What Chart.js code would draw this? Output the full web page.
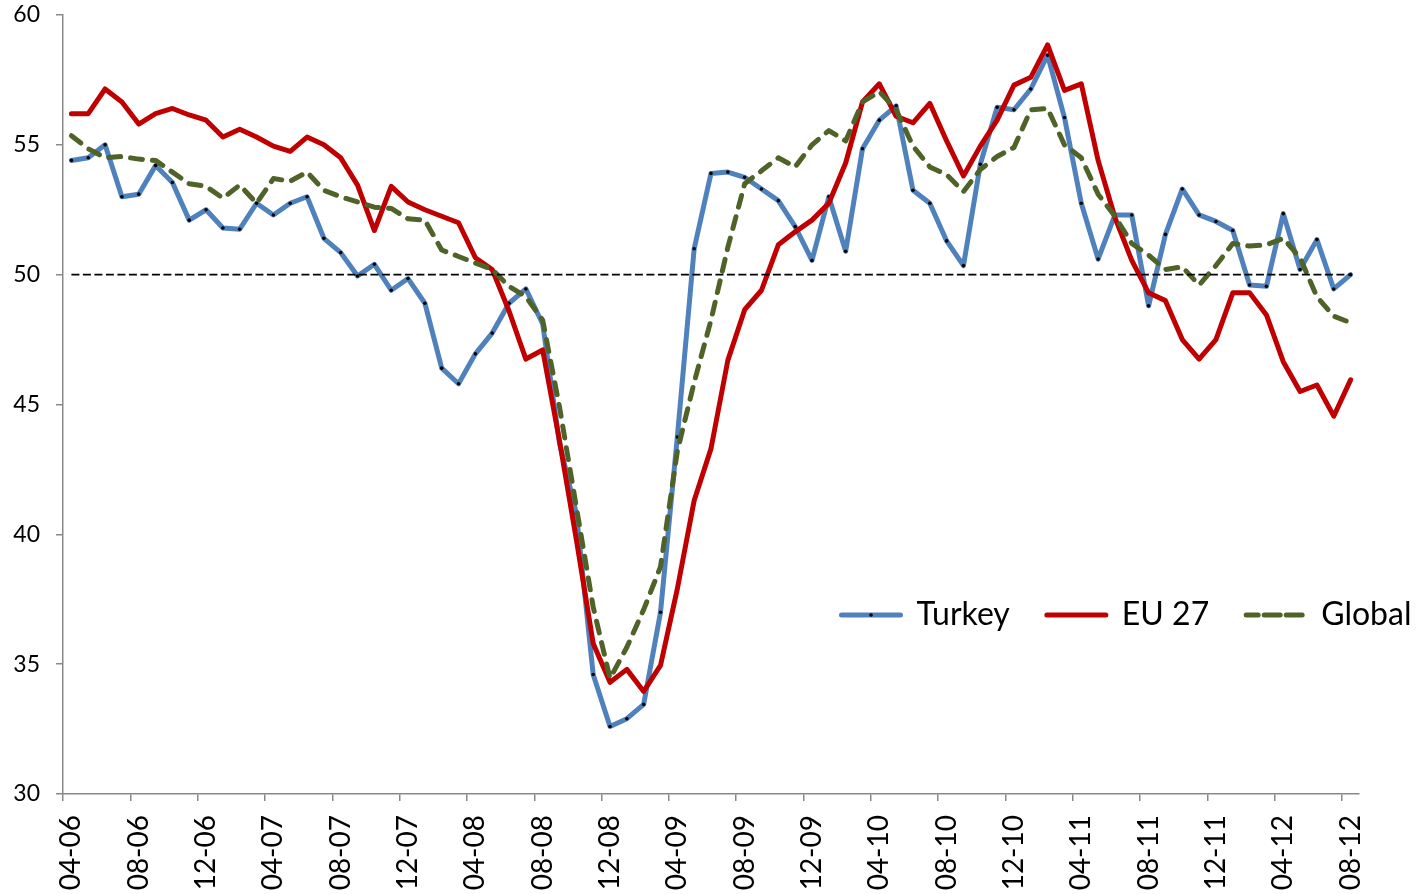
<!DOCTYPE html>
<html>
<head>
<meta charset="utf-8">
<script src="https://cdn.jsdelivr.net/npm/chart.js@4.4.1/dist/chart.umd.min.js"></script>
<style>
  html, body { margin: 0; padding: 0; background: #fff; }
  #wrap { width: 1416px; height: 894px; }
</style>
</head>
<body>
<div id="wrap"><canvas id="pmiChart" width="1416" height="894"></canvas></div>
<script>
// month-year categories, 04-06 .. 08-12
const months = [
  '04-06','05-06','06-06','07-06','08-06','09-06','10-06','11-06','12-06',
  '01-07','02-07','03-07','04-07','05-07','06-07','07-07','08-07','09-07','10-07','11-07','12-07',
  '01-08','02-08','03-08','04-08','05-08','06-08','07-08','08-08','09-08','10-08','11-08','12-08',
  '01-09','02-09','03-09','04-09','05-09','06-09','07-09','08-09','09-09','10-09','11-09','12-09',
  '01-10','02-10','03-10','04-10','05-10','06-10','07-10','08-10','09-10','10-10','11-10','12-10',
  '01-11','02-11','03-11','04-11','05-11','06-11','07-11','08-11','09-11','10-11','11-11','12-11',
  '01-12','02-12','03-12','04-12','05-12','06-12','07-12','08-12'
];

const turkey = [
  54.4, 54.5, 55.0, 53.0, 53.1, 54.2, 53.55, 52.1, 52.5, 51.8,
  51.75, 52.75, 52.3, 52.75, 53.0, 51.4, 50.85, 49.95, 50.4, 49.4,
  49.85, 48.9, 46.4, 45.8, 46.95, 47.75, 48.9, 49.45, 48.1, 43.5,
  40.8, 34.6, 32.6, 32.9, 33.45, 37.0, 43.75, 51.0, 53.9, 53.95,
  53.75, 53.3, 52.85, 51.85, 50.55, 53.0, 50.9, 54.85, 55.95, 56.5,
  53.25, 52.75, 51.3, 50.35, 54.25, 56.45, 56.35, 57.15, 58.45, 56.05,
  52.75, 50.6, 52.3, 52.3, 48.8, 51.55, 53.3, 52.3, 52.05, 51.7,
  49.6, 49.55, 52.35, 50.2, 51.35, 49.45, 50.0
];

const eu27 = [
  56.2, 56.2, 57.15, 56.65, 55.8, 56.2, 56.4, 56.15, 55.95, 55.3,
  55.6, 55.3, 54.95, 54.75, 55.3, 55.0, 54.5, 53.45, 51.7, 53.4,
  52.8, 52.5, 52.25, 52.0, 50.65, 50.2, 48.6, 46.75, 47.1, 43.6,
  39.8, 35.8, 34.3, 34.8, 33.95, 34.95, 37.9, 41.3, 43.3, 46.7,
  48.65, 49.4, 51.15, 51.65, 52.1, 52.75, 54.3, 56.65, 57.35, 56.1,
  55.85, 56.6, 55.15, 53.8, 54.95, 55.95, 57.3, 57.6, 58.85, 57.1,
  57.35, 54.4, 52.2, 50.55, 49.3, 49.0, 47.5, 46.75, 47.5, 49.3,
  49.3, 48.45, 46.65, 45.5, 45.75, 44.55, 45.95
];

const globalPmi = [
  55.35, 54.85, 54.5, 54.55, 54.45, 54.4, 53.95, 53.5, 53.4, 52.95,
  53.45, 52.75, 53.7, 53.6, 53.95, 53.25, 53.0, 52.8, 52.6, 52.55,
  52.15, 52.1, 50.95, 50.7, 50.45, 50.2, 49.55, 49.15, 48.25, 44.9,
  41.05, 37.2, 34.45, 35.65, 37.1, 38.75, 43.2, 45.85, 48.25, 51.05,
  53.5, 54.0, 54.5, 54.15, 55.0, 55.55, 55.15, 56.65, 57.05, 56.35,
  54.95, 54.15, 53.85, 53.2, 54.05, 54.55, 54.9, 56.35, 56.4, 55.0,
  54.5, 53.1, 52.25, 51.2, 50.75, 50.2, 50.3, 49.6, 50.35, 51.2,
  51.1, 51.15, 51.4, 50.65, 49.15, 48.4, 48.15
];

const neutralLevel = 50;
const yTicks = { min: 30, max: 60, step: 5 };

const axisGray = '#898989';
const legendFont = 32;
const legendBox = 59;
const legendPad = 37;
const legendAt = { x: 841.5 - legendPad, y: 615 - legendFont / 2 - legendPad };

// move the legend inside the plot, bottom right
const legendPlace = {
  id: 'legendPlace',
  afterInit(chart) {
    const lg = chart.legend;
    const fit = lg.fit;
    lg.fit = function () { fit.call(this); this.height = 0; };
  },
  beforeDraw(chart) {
    const lg = chart.legend;
    lg.left = legendAt.x;
    lg.right = legendAt.x + 2000;
    lg.top = legendAt.y;
    lg.bottom = legendAt.y + 120;
  },
  afterDraw(chart) {
    // the little marker dot on the Turkey sample
    const c = chart.ctx;
    c.save();
    c.fillStyle = '#000';
    c.beginPath();
    c.arc(legendAt.x + legendPad + legendBox / 2, legendAt.y + legendPad + legendFont / 2, 1.8, 0, Math.PI * 2);
    c.fill();
    c.restore();
  }
};

Chart.defaults.font.family = 'Lato, "Open Sans", sans-serif';
Chart.defaults.color = '#000';

const ctx = document.getElementById('pmiChart').getContext('2d');
new Chart(ctx, {
  type: 'line',
  data: {
    labels: months,
    datasets: [
      {
        label: 'Turkey',
        data: turkey,
        borderColor: '#4F81BD',
        backgroundColor: '#4F81BD',
        borderWidth: 5,
        borderCapStyle: 'round',
        borderJoinStyle: 'round',
        pointRadius: 1.8,
        pointBorderWidth: 0,
        pointBackgroundColor: '#000',
        order: 3
      },
      {
        label: 'EU 27',
        data: eu27,
        borderColor: '#C00000',
        backgroundColor: '#C00000',
        borderWidth: 5,
        borderCapStyle: 'round',
        borderJoinStyle: 'round',
        pointRadius: 0,
        order: 2
      },
      {
        label: 'Global',
        data: globalPmi,
        borderColor: '#4F6228',
        backgroundColor: '#4F6228',
        borderWidth: 5,
        borderDash: [12, 10],
        borderCapStyle: 'round',
        borderJoinStyle: 'round',
        pointRadius: 0,
        order: 1
      },
      {
        label: '50',
        data: months.map(() => neutralLevel),
        borderColor: '#000',
        borderWidth: 1.8,
        borderDash: [8, 3.5],
        pointRadius: 0,
        order: 0
      }
    ]
  },
  options: {
    responsive: false,
    animation: false,
    layout: { padding: { top: 15, right: 57, left: 0, bottom: 0 } },
    plugins: {
      tooltip: { enabled: false },
      legend: {
        position: 'top',
        align: 'start',
        labels: {
          boxWidth: legendBox,
          boxHeight: 0,
          padding: legendPad,
          color: '#000',
          font: { size: legendFont },
          filter: item => item.datasetIndex < 3,
          sort: (a, b) => a.datasetIndex - b.datasetIndex
        }
      }
    },
    scales: {
      x: {
        type: 'category',
        offset: true,
        grid: {
          offset: true,
          drawOnChartArea: false,
          tickLength: 7,
          lineWidth: 1.5,
          color: c => (c.index % 4 === 0 ? axisGray : 'transparent')
        },
        border: { color: axisGray, width: 1.5 },
        ticks: {
          autoSkip: false,
          minRotation: 90,
          maxRotation: 90,
          padding: 14,
          font: { size: 28 },
          callback: (v, i) => (i % 4 === 0 ? months[i] : '')
        },
        afterFit: s => { s.height = 100; }
      },
      y: {
        min: yTicks.min,
        max: yTicks.max,
        grid: { drawOnChartArea: false, tickLength: 7, lineWidth: 1.5, color: axisGray },
        border: { color: axisGray, width: 1.5 },
        ticks: { stepSize: yTicks.step, padding: 16, font: { size: 23 } },
        afterFit: s => { s.width = 63; s.paddingTop = 0; s.paddingBottom = 0; }
      }
    }
  },
  plugins: [legendPlace]
});
</script>
</body>
</html>
